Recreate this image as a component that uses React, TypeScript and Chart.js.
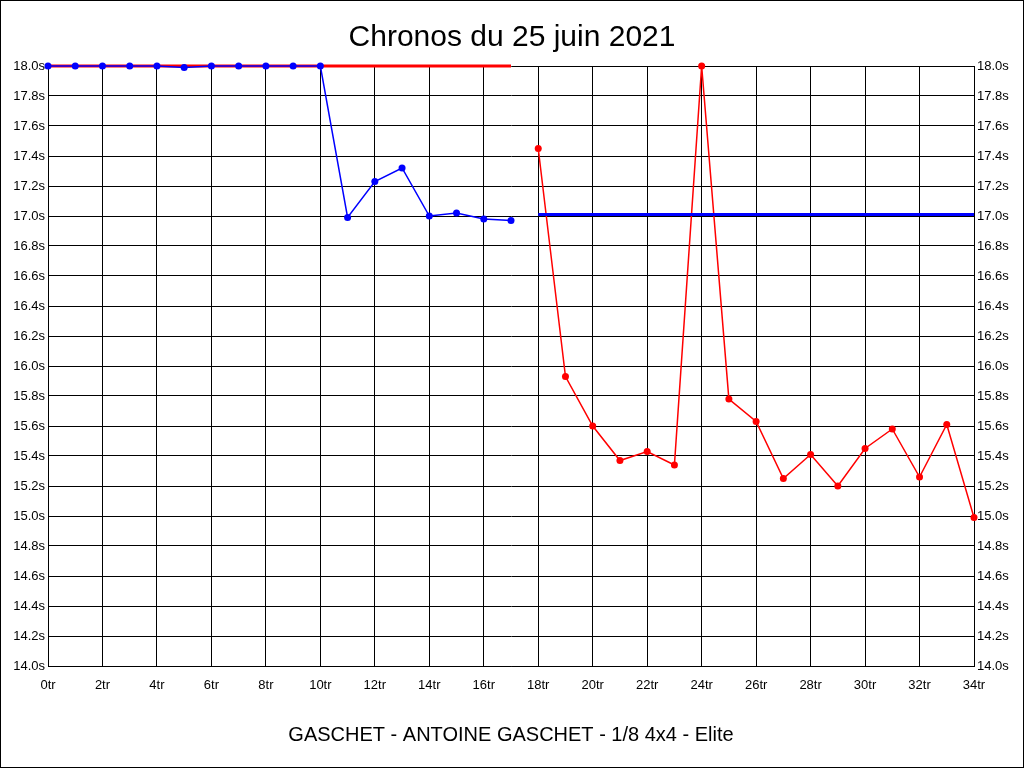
import { useEffect, useRef } from 'react';
import Chart from 'chart.js/auto';

// lap numbers and lap times (seconds)
const lapsBlue = [0, 1, 2, 3, 4, 5, 6, 7, 8, 9, 10, 11, 12, 13, 14, 15, 16, 17];
const timesBlue = [18.0, 18.0, 18.0, 18.0, 18.0, 17.99, 18.0, 18.0, 18.0, 18.0, 18.0, 16.99, 17.23, 17.32, 17.0, 17.02, 16.98, 16.97];
const lapsRed = [18, 19, 20, 21, 22, 23, 24, 25, 26, 27, 28, 29, 30, 31, 32, 33, 34];
const timesRed = [17.45, 15.93, 15.6, 15.37, 15.43, 15.34, 18.0, 15.78, 15.63, 15.25, 15.41, 15.2, 15.45, 15.58, 15.26, 15.61, 14.99];

// reference lines
const refRedLaps = [0, 17];
const refRedTime = 18.0;
const refBlueLaps = [18, 34];
const refBlueTime = 17.01;

const FONT = '"Liberation Sans", Arial, sans-serif';

const framePlugin = {
    id: 'frame',
    beforeDraw(chart: Chart) {
        const { ctx, width, height } = chart;
        ctx.save();
        ctx.fillStyle = '#ffffff';
        ctx.fillRect(0, 0, width, height);
        ctx.restore();
    },
    afterDraw(chart: Chart) {
        const { ctx, width, height } = chart;
        ctx.save();
        ctx.strokeStyle = '#000000';
        ctx.lineWidth = 1;
        ctx.strokeRect(0.5, 0.5, width - 1, height - 1);
        ctx.restore();
    }
};

export default function App() {
    const canvasRef = useRef<HTMLCanvasElement>(null);

    useEffect(() => {
        document.body.style.margin = '0';
        if (!canvasRef.current) return;
        const ctx = canvasRef.current.getContext('2d');
        if (!ctx) return;

        const yTicks = {
            stepSize: 0.2,
            color: '#000000',
            font: { size: 13, family: FONT },
            padding: 3,
            callback: (v: any) => Number(v).toFixed(1) + 's'
        };

        const chart = new Chart(ctx, {
            type: 'line',
            data: {
                datasets: [
                    {
                        data: refRedLaps.map((x) => ({ x, y: refRedTime })),
                        borderColor: '#ff0000',
                        borderWidth: 3,
                        pointRadius: 0,
                        order: 4,
                        clip: false
                    },
                    {
                        data: lapsBlue.map((x, i) => ({ x, y: timesBlue[i] })),
                        borderColor: '#0000ff',
                        backgroundColor: '#0000ff',
                        borderWidth: 1.5,
                        pointRadius: 3.5,
                        pointBorderWidth: 0,
                        order: 3,
                        clip: false
                    },
                    {
                        data: lapsRed.map((x, i) => ({ x, y: timesRed[i] })),
                        borderColor: '#ff0000',
                        backgroundColor: '#ff0000',
                        borderWidth: 1.5,
                        pointRadius: 3.5,
                        pointBorderWidth: 0,
                        order: 2,
                        clip: false
                    },
                    {
                        data: refBlueLaps.map((x) => ({ x, y: refBlueTime })),
                        borderColor: '#0000ff',
                        borderWidth: 3,
                        pointRadius: 0,
                        order: 1,
                        clip: false
                    }
                ]
            },
            options: {
                responsive: false,
                animation: false,
                devicePixelRatio: 1,
                layout: { padding: 0 },
                plugins: {
                    legend: { display: false },
                    tooltip: { enabled: false },
                    title: {
                        display: true,
                        text: 'Chronos du 25 juin 2021',
                        color: '#000000',
                        font: { size: 30, family: FONT, weight: 'normal', lineHeight: 1.2 },
                        padding: { top: 20, bottom: 10 }
                    }
                },
                scales: {
                    x: {
                        type: 'linear',
                        min: 0,
                        max: 34,
                        grid: { color: '#000000', lineWidth: 1, drawTicks: false },
                        border: { color: '#000000' },
                        ticks: {
                            stepSize: 2,
                            color: '#000000',
                            font: { size: 13, family: FONT },
                            padding: 12,
                            maxRotation: 0,
                            callback: (v: any) => v + 'tr'
                        },
                        title: {
                            display: true,
                            text: 'GASCHET - ANTOINE GASCHET - 1/8 4x4 - Elite',
                            color: '#000000',
                            font: { size: 20, family: FONT },
                            padding: { top: 0, bottom: 21 }
                        },
                        afterFit: (s: any) => { s.height = 102; }
                    },
                    y: {
                        position: 'left',
                        min: 14,
                        max: 18,
                        grid: { color: '#000000', lineWidth: 1, drawTicks: false },
                        border: { color: '#000000' },
                        ticks: yTicks,
                        afterFit: (s: any) => { s.width = 48; }
                    },
                    y2: {
                        position: 'right',
                        min: 14,
                        max: 18,
                        grid: { display: false, drawTicks: false },
                        border: { color: '#000000' },
                        ticks: yTicks,
                        afterFit: (s: any) => { s.width = 50; }
                    }
                }
            },
            plugins: [framePlugin]
        });

        return () => chart.destroy();
    }, []);

    return <canvas ref={canvasRef} width={1024} height={768} style={{ display: 'block' }} />;
}
